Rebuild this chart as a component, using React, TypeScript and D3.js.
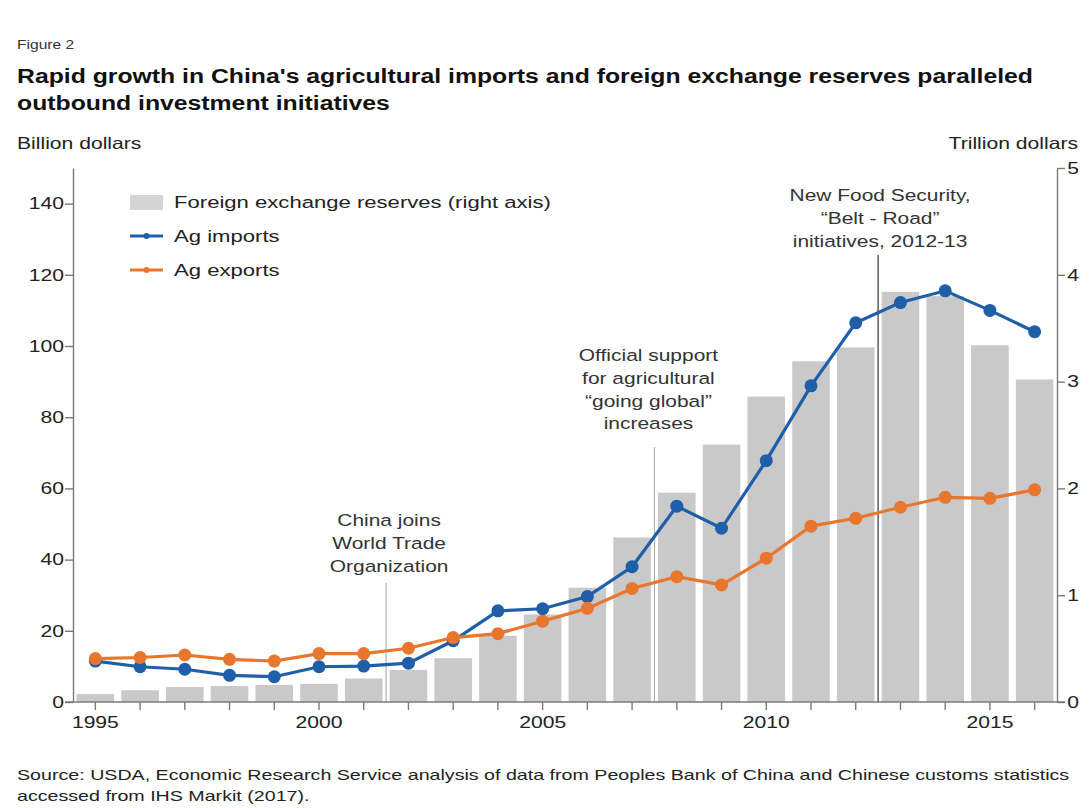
import { useEffect, useRef } from "react";
import * as d3 from "d3";

const years = [
  1995, 1996, 1997, 1998, 1999, 2000, 2001, 2002, 2003, 2004, 2005,
  2006, 2007, 2008, 2009, 2010, 2011, 2012, 2013, 2014, 2015, 2016,
];
// trillion dollars (right axis)
const reserves = [
  0.075, 0.11, 0.14, 0.15, 0.16, 0.17, 0.22, 0.3, 0.41, 0.62, 0.82,
  1.07, 1.54, 1.96, 2.41, 2.86, 3.19, 3.32, 3.84, 3.8, 3.34, 3.02,
];
// billion dollars (left axis)
const agImports = [
  11.5, 9.9, 9.2, 7.5, 7.1, 9.9, 10.1, 10.9, 17.2, 25.6, 26.2,
  29.6, 38.0, 55.0, 48.8, 67.8, 88.8, 106.5, 112.2, 115.5, 110.0, 104.0,
];
const agExports = [
  12.2, 12.5, 13.2, 12.0, 11.5, 13.6, 13.6, 15.1, 18.1, 19.2, 22.7,
  26.3, 31.9, 35.2, 32.9, 40.4, 49.4, 51.6, 54.7, 57.5, 57.2, 59.6,
];
const leftTicks = [0, 20, 40, 60, 80, 100, 120, 140];
const rightTicks = [0, 1, 2, 3, 4, 5];
const labelYears = [1995, 2000, 2005, 2010, 2015];

const annotations = [
  { at: 2001.5, lines: ["China joins", "World Trade", "Organization"], top: 583, textY: 526, dx: 3 },
  { at: 2007.5, lines: ["Official support", "for agricultural", "\u201cgoing global\u201d", "increases"], top: 447, textY: 361, dx: -6 },
  { at: 2012.5, lines: ["New Food Security,", "\u201cBelt - Road\u201d", "initiatives, 2012-13"], top: 255, textY: 201, dx: 2 },
];

const W = 1089;
const H = 808;
const FONT = "'Liberation Sans', Arial, Helvetica, sans-serif";
const SX = 1.28; // the original text is drawn wide
const BLUE = "#1f5ea8";
const ORANGE = "#e8762d";
const BAR = "#c9c9c9";

export default function App() {
  const svgRef = useRef<SVGSVGElement>(null);

  useEffect(() => {
    if (!svgRef.current) return;
    const svg = d3.select(svgRef.current);
    svg.selectAll("*").remove();

    const left = 73, right = 1057, top = 168, bottom = 702;

    const x = d3.scaleBand<number>().domain(years).range([left, right]).paddingInner(0.16).paddingOuter(0.08);
    const xc = (yr: number) => (x(yr) as number) + x.bandwidth() / 2;
    const step = x.step();
    const xAt = (v: number) => xc(1995) + (v - 1995) * step;
    const yL = d3.scaleLinear().domain([0, 150]).range([bottom, top]);
    const yR = d3.scaleLinear().domain([0, 5]).range([bottom, top]);

    const text = (
      g: d3.Selection<any, unknown, null, undefined>,
      tx: number, ty: number, s: string, size: number,
      anchor = "start", weight = "normal", sx = SX, fill = "#222"
    ) =>
      g.append("text")
        .attr("transform", `translate(${tx},${ty}) scale(${sx},1)`)
        .attr("text-anchor", anchor)
        .attr("font-size", size)
        .attr("font-weight", weight)
        .attr("fill", fill)
        .attr("font-family", FONT)
        .text(s);

    // Headings
    text(svg, 17, 49, "Figure 2", 13, "start", "normal", 1.2, "#333");
    text(svg, 17, 83, "Rapid growth in China's agricultural imports and foreign exchange reserves paralleled", 21, "start", "bold", 1.18, "#111");
    text(svg, 17, 110, "outbound investment initiatives", 21, "start", "bold", 1.18, "#111");
    text(svg, 17, 149, "Billion dollars", 16.5);
    text(svg, 1078, 149, "Trillion dollars", 16.5, "end");

    // Bars
    svg.append("g")
      .selectAll("rect")
      .data(years)
      .join("rect")
      .attr("x", d => x(d) as number)
      .attr("width", x.bandwidth())
      .attr("y", (d, i) => yR(reserves[i]))
      .attr("height", (d, i) => bottom - yR(reserves[i]))
      .attr("fill", BAR);

    // Annotation lines
    annotations.forEach((a, k) => {
      const ax = xAt(a.at);
      svg.append("line")
        .attr("x1", ax).attr("x2", ax)
        .attr("y1", a.top).attr("y2", bottom)
        .attr("stroke", k === 2 ? "#333" : "#b0b0b0")
        .attr("stroke-width", 1.2);
      a.lines.forEach((s, j) => {
        text(svg, ax + a.dx, a.textY + j * 22.8, s, 16.5, "middle", "normal", 1.27, "#333");
      });
    });

    // Axes
    const axisStyle = (g: d3.Selection<SVGGElement, unknown, null, undefined>) => {
      g.selectAll("path, line").attr("stroke", "#7a7a7a").attr("stroke-width", 1.4);
      g.selectAll("text")
        .attr("font-family", FONT)
        .attr("font-size", 16.5)
        .attr("fill", "#222");
    };

    const gl = svg.append("g")
      .attr("transform", `translate(${left},0)`)
      .call(d3.axisLeft(yL).tickValues(leftTicks).tickSize(8).tickSizeOuter(0).tickPadding(0));
    axisStyle(gl);
    gl.selectAll(".tick text").attr("transform", `scale(${SX},1)`).attr("x", -7);

    const gr = svg.append("g")
      .attr("transform", `translate(${right},0)`)
      .call(d3.axisRight(yR).tickValues(rightTicks).tickFormat(d3.format("d")).tickSize(8).tickSizeOuter(0).tickPadding(0));
    axisStyle(gr);
    gr.selectAll(".tick text").attr("transform", `scale(${SX},1)`).attr("x", 8);

    const gb = svg.append("g")
      .attr("transform", `translate(0,${bottom})`)
      .call(
        d3.axisBottom(x)
          .tickSize(8)
          .tickSizeOuter(0)
          .tickPadding(6)
          .tickFormat(d => (labelYears.includes(d as number) ? String(d) : ""))
      );
    axisStyle(gb);
    gb.select(".domain").attr("d", `M${left - 8},0H${right + 8}`);
    gb.selectAll(".tick text").attr("transform", `scale(${SX},1)`).attr("x", 0);

    // Lines
    const drawSeries = (vals: number[], color: string) => {
      const line = d3.line<number>()
        .x((d, i) => xc(years[i]))
        .y(d => yL(d));
      svg.append("path")
        .datum(vals)
        .attr("d", line)
        .attr("fill", "none")
        .attr("stroke", color)
        .attr("stroke-width", 3.2);
      svg.append("g")
        .selectAll("circle")
        .data(vals)
        .join("circle")
        .attr("cx", (d, i) => xc(years[i]))
        .attr("cy", d => yL(d))
        .attr("r", 6.5)
        .attr("fill", color);
    };
    drawSeries(agImports, BLUE);
    drawSeries(agExports, ORANGE);

    // Legend
    const lg = svg.append("g");
    lg.append("rect").attr("x", 130).attr("y", 195).attr("width", 33).attr("height", 15).attr("fill", "#d4d4d4");
    text(lg, 174, 208, "Foreign exchange reserves (right axis)", 17, "start", "normal", 1.3);
    [[BLUE, 236, "Ag imports"], [ORANGE, 270, "Ag exports"]].forEach(([c, ly, s]) => {
      lg.append("line").attr("x1", 130).attr("x2", 163).attr("y1", ly as number).attr("y2", ly as number)
        .attr("stroke", c as string).attr("stroke-width", 3);
      lg.append("circle").attr("cx", 146.5).attr("cy", ly as number).attr("r", 3).attr("fill", c as string);
      text(lg, 174, (ly as number) + 6, s as string, 17, "start", "normal", 1.3);
    });

    // Source
    text(svg, 17, 780, "Source: USDA, Economic Research Service analysis of data from Peoples Bank of China and Chinese customs statistics", 15, "start", "normal", 1.31, "#222");
    text(svg, 17, 801, "accessed from IHS Markit (2017).", 15, "start", "normal", 1.31, "#222");
  }, []);

  return (
    <svg
      ref={svgRef}
      width={W}
      height={H}
      style={{ position: "absolute", left: 0, top: 0, background: "#fff" }}
    />
  );
}
